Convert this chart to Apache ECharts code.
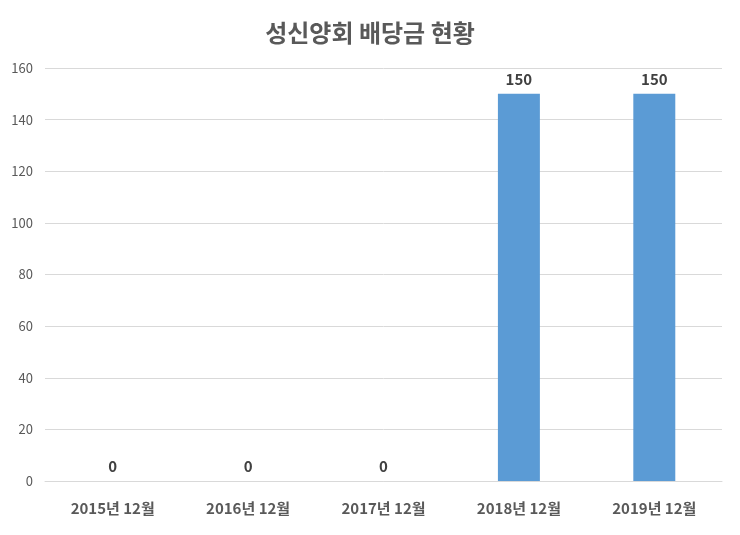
<!DOCTYPE html>
<html>
<head>
<meta charset="utf-8">
<script src="https://cdn.jsdelivr.net/npm/echarts@6/dist/echarts.min.js"></script>
<style>
html, body { margin: 0; padding: 0; background: #fff; }
#chart { width: 740px; height: 535px; }
</style>
</head>
<body>
<div id="chart"></div>
<script>
var categories = ['2015년 12월', '2016년 12월', '2017년 12월', '2018년 12월', '2019년 12월'];
var dividend = [0, 0, 0, 150, 150];

var font = '"Noto Sans CJK KR", "Noto Sans", sans-serif';
var myChart = echarts.init(document.getElementById('chart'));
myChart.setOption({
    animation: false,
    title: {
        text: '성신양회 배당금 현황',
        left: 'center',
        top: 16,
        textStyle: { fontFamily: font, fontSize: 24, fontWeight: 'bold', color: '#595959' }
    },
    grid: { left: 45, right: 18, top: 68, bottom: 54 },
    xAxis: {
        type: 'category',
        data: categories,
        axisLine: { show: true, lineStyle: { color: '#D9D9D9' } },
        axisTick: { show: false },
        axisLabel: { fontFamily: font, fontSize: 15, fontWeight: 'bold', color: '#595959', margin: 20 }
    },
    yAxis: {
        type: 'value',
        min: 0,
        max: 160,
        interval: 20,
        axisLine: { show: false },
        axisTick: { show: false },
        axisLabel: { fontFamily: font, fontSize: 13, color: '#595959', margin: 12 },
        splitLine: { lineStyle: { color: '#D9D9D9' } }
    },
    series: [{
        name: '배당금',
        type: 'bar',
        barWidth: '31%',
        data: dividend,
        itemStyle: { color: '#5B9BD5' },
        label: {
            show: true,
            position: 'top',
            distance: 7,
            fontFamily: font,
            fontSize: 15,
            fontWeight: 'bold',
            color: '#404040'
        }
    }]
});
</script>
</body>
</html>
